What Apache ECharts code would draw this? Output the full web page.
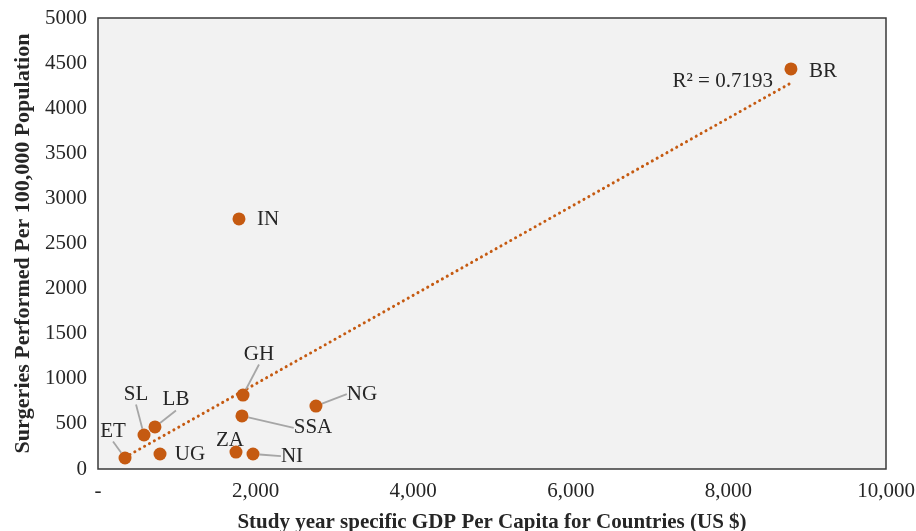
<!DOCTYPE html>
<html>
<head>
<meta charset="utf-8">
<script src="https://cdn.jsdelivr.net/npm/echarts@6/dist/echarts.min.js"></script>
<style>html,body{margin:0;padding:0;background:#fff}#c{width:916px;height:531px}</style>
</head>
<body>
<div id="c"></div>
<script>
// ---- data ----
const countries = ['BR','IN','GH','NG','SSA','SL','LB','ET','UG','ZA','NI'];
const gdpPerCapita = [8794, 1789, 1840, 2766, 1827, 584, 723, 343, 787, 1751, 1967];
const surgeriesPer100k = [4435, 2772, 820, 698, 588, 377, 466, 122, 166, 188, 166];
const trendX = [343, 8794];
const trendY = [130, 4280];
const rSquaredText = 'R² = 0.7193';
const xTicks = [0, 2000, 4000, 6000, 8000, 10000];
const yTicks = [0, 500, 1000, 1500, 2000, 2500, 3000, 3500, 4000, 4500, 5000];

// ---- label layout (styling only) ----
const labelOffsets = {
  BR: [32, 3], IN: [29, 1], GH: [16, -41], NG: [46, -12], SSA: [71, 12],
  SL: [-8, -41], LB: [21, -27], ET: [-12, -27], UG: [30, 0], ZA: [-6, -12], NI: [39, 2]
};
const withLeader = ['GH','NG','SSA','SL','LB','ET','NI'];

const font = 'Liberation Serif, Times New Roman, serif';
const dotColor = '#c55a11';
const textColor = '#262626';

const scatterData = countries.map((n, i) => ({
  name: n,
  value: [gdpPerCapita[i], surgeriesPer100k[i]],
  labelLine: { show: withLeader.indexOf(n) >= 0 }
}));

const chart = echarts.init(document.getElementById('c'));
chart.setOption({
  animation: false,
  backgroundColor: '#ffffff',
  grid: {
    left: 98, top: 18, right: 30, bottom: 62,
    outerBoundsMode: 'none', containLabel: false,
    show: true, backgroundColor: '#f2f2f2', borderColor: '#3a3a3a', borderWidth: 1.5
  },
  xAxis: {
    type: 'value', min: xTicks[0], max: xTicks[xTicks.length - 1], interval: 2000,
    axisLine: { show: false }, axisTick: { show: false }, splitLine: { show: false },
    axisLabel: {
      margin: 12, color: textColor, fontFamily: font, fontSize: 21,
      formatter: v => v === 0 ? '-' : v.toLocaleString('en-US')
    },
    name: 'Study year specific GDP Per Capita for Countries (US $)',
    nameLocation: 'middle', nameGap: 43,
    nameTextStyle: { fontFamily: font, fontSize: 21, fontWeight: 'bold', color: textColor }
  },
  yAxis: {
    type: 'value', min: yTicks[0], max: yTicks[yTicks.length - 1], interval: 500,
    axisLine: { show: false }, axisTick: { show: false }, splitLine: { show: false },
    axisLabel: { margin: 11, color: textColor, fontFamily: font, fontSize: 21, formatter: v => String(v) },
    name: 'Surgeries Performed Per 100,000 Population',
    nameLocation: 'middle', nameGap: 64,
    nameTextStyle: { fontFamily: font, fontSize: 22, fontWeight: 'bold', color: textColor }
  },
  series: [
    {
      type: 'line',
      data: [
        [trendX[0], trendY[0]],
        { value: [trendX[1], trendY[1]],
          label: { show: true, position: 'left', distance: 18, offset: [0, -1], formatter: rSquaredText,
                   fontFamily: font, fontSize: 21, color: textColor } }
      ],
      symbol: 'circle', symbolSize: 0.1, showSymbol: true,
      lineStyle: { color: dotColor, width: 3, type: [0.1, 5.5], cap: 'round' },
      itemStyle: { color: dotColor },
      z: 1, silent: true
    },
    {
      type: 'scatter',
      data: scatterData,
      symbolSize: 13,
      itemStyle: { color: dotColor, opacity: 1 },
      label: {
        show: true, position: 'inside', formatter: '{b}',
        fontFamily: font, fontSize: 21, color: textColor, padding: [3, 5]
      },
      labelLine: { show: true, lineStyle: { color: '#a6a6a6', width: 1.8 } },
      labelLayout: p => {
        const o = labelOffsets[countries[p.dataIndex]];
        return { dx: o[0], dy: o[1] };
      },
      z: 3
    }
  ]
});
</script>
</body>
</html>
